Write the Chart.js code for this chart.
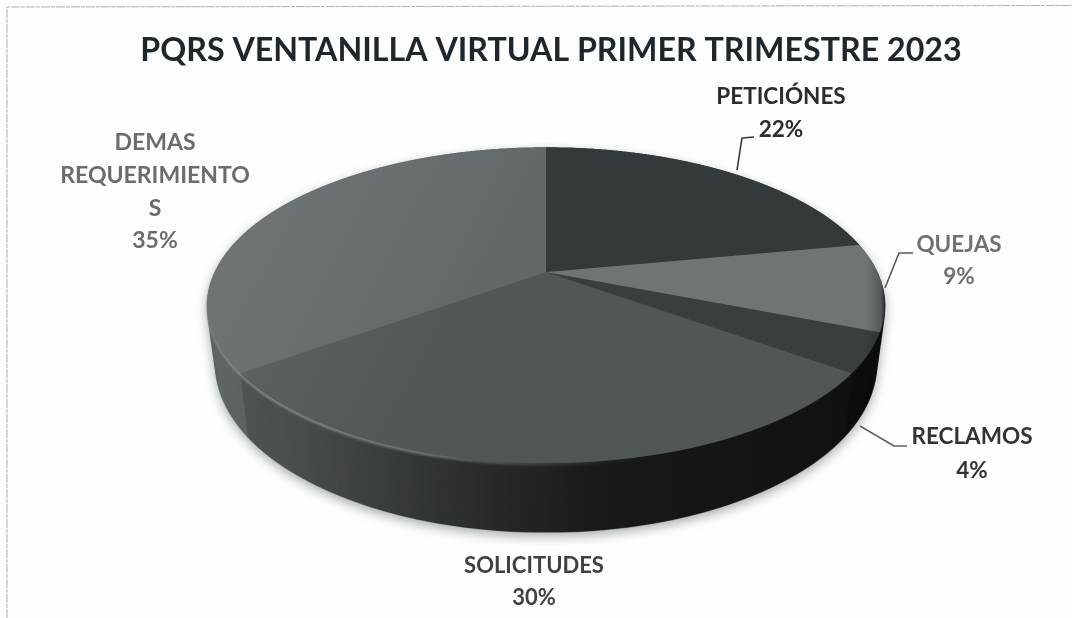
<!DOCTYPE html>
<html><head><meta charset="utf-8">
<style>html,body{margin:0;padding:0;background:#fdfefe}#w{width:1072px;height:618px;position:relative}canvas{display:block;filter:blur(0.4px)}</style>
<script src="https://cdn.jsdelivr.net/npm/chart.js@4"></script>
</head><body><div id="w"><canvas id="c" width="1072" height="618"></canvas></div>
<script>
const chartTitle = 'PQRS VENTANILLA VIRTUAL PRIMER TRIMESTRE 2023';
const categories = ['PETICIÓNES', 'QUEJAS', 'RECLAMOS', 'SOLICITUDES', 'DEMAS REQUERIMIENTOS'];
const values = [22, 9, 4, 30, 35];
const sliceColors = ['#34393b', '#6f7477', '#393e40', '#515658', '#63696b'];

// Label layout (separate from the data): wrapped lines, centre x, line centre ys, colour, font size
const labelLayout = [
  {i:0, lines:['PETICIÓNES'], x:781, ys:[97,130], color:'#272e31', size:22.5},
  {i:1, lines:['QUEJAS'], x:959, ys:[245,277], color:'#6d7273', size:22.5},
  {i:2, lines:['RECLAMOS'], x:972, ys:[437,471], color:'#2f3537', size:22.5},
  {i:3, lines:['SOLICITUDES'], x:534, ys:[566,598], color:'#3d4244', size:22},
  {i:4, lines:['DEMAS','REQUERIMIENTO','S'], x:155, ys:[143,176,209,241], color:'#686d6e', size:23}
];
const leaders = [
  {pts:[[737,170],[742,138],[754,137]], color:'#33383a'},
  {pts:[[885,288],[899,253],[913,253]], color:'#555a5b'},
  {pts:[[860,426],[894,446],[907,446]], color:'#5f6465'}
];
// Projection of the flat pie into the tilted view
const view = {cx:546, y0:272, R:331.5, k:151, p:0.209, top:147, bottom:463, depth:58, shrink:0.025, stretch:0.06};

function layer(W,H){const c=document.createElement('canvas');c.width=W;c.height=H;return c;}

const tilt3d = {
  id:'tilt3d',
  beforeDraw(chart){
    const g=chart.ctx;
    g.save();
    g.fillStyle='#fdfefe';g.fillRect(0,0,chart.width,chart.height);
    g.strokeStyle='#a9adad';g.lineWidth=1;g.setLineDash([9,1,4,1]);
    g.beginPath();g.moveTo(7,618);g.lineTo(7,7);g.lineTo(1072,5.5);g.stroke();
    g.restore();
  },
  beforeDatasetsDraw(chart){
    const W=chart.width,H=chart.height,SS=2;
    const arcs=chart.getDatasetMeta(0).data;
    const a0=arcs[0];
    // 1. the library's own arc elements, flat, on a layer
    const off=layer(W*SS,H*SS),oc=off.getContext('2d');
    oc.scale(SS,SS);
    arcs.forEach(a=>a.draw(oc));
    // 2. row-by-row perspective projection of the flat pie
    const top=layer(W*SS,H*SS),tc=top.getContext('2d');
    const Rs=a0.outerRadius,v=view;
    const vAt=y=>{const d=y-v.y0;return d/(v.k+v.p*d);};
    for(let y=v.top-2;y<v.bottom+2;y+=0.5){
      const vv=vAt(y),vn=vAt(y+0.5);
      if(Math.abs(vv)>1.02)continue;
      const w=1-v.p*vv,s=v.R/(w*Rs);
      const sx=(a0.x-Rs-2)*SS,sw=(2*Rs+4)*SS;
      const sy=(a0.y+Rs*vv)*SS,sh=Math.max(1,Rs*(vn-vv)*SS);
      const dx=v.cx-(Rs+2)*s;
      tc.drawImage(off,sx,sy,sw,sh,dx*SS,y*SS,(2*Rs+4)*s*SS,1.5);
    }
    // soft shading of the top face
    tc.globalCompositeOperation='source-atop';
    let sg=tc.createLinearGradient(205*SS,310*SS,420*SS,420*SS);
    sg.addColorStop(0,'rgba(170,175,175,.16)');sg.addColorStop(1,'rgba(170,175,175,0)');
    tc.fillStyle=sg;tc.fillRect(0,0,W*SS,H*SS);
    const rg=tc.createLinearGradient(866*SS,0,887*SS,0);
    rg.addColorStop(0,'rgba(10,12,14,0)');rg.addColorStop(.7,'rgba(10,12,14,.25)');rg.addColorStop(1,'rgba(10,12,14,.9)');
    tc.fillStyle=rg;tc.fillRect(0,0,W*SS,H*SS);
    tc.globalCompositeOperation='source-over';
    // 3. side wall: stacked copies of the face, darkened left to right
    const side=layer(W*SS,H*SS),sc=side.getContext('2d');
    const N=140;
    for(let i=N;i>=1;i--){
      const t=i/N,sxk=1-v.shrink*t,syk=1+v.stretch*t;
      sc.setTransform(sxk,0,0,syk,(v.cx-v.cx*sxk)*SS,(v.y0-v.y0*syk+v.depth*t)*SS);
      sc.drawImage(top,0,0);
    }
    sc.setTransform(1,0,0,1,0,0);
    sc.globalCompositeOperation='source-atop';
    const dg=sc.createLinearGradient(207*SS,0,880*SS,0);
    [[0,.06],[.05,.1],[.14,.14],[.30,.34],[.44,.56],[.58,.74],[.75,.8],[1,.86]].forEach(s=>dg.addColorStop(s[0],'rgba(5,6,8,'+s[1]+')'));
    sc.fillStyle=dg;sc.fillRect(0,0,W*SS,H*SS);
    const g=chart.ctx;
    g.save();
    g.imageSmoothingEnabled=true;g.imageSmoothingQuality='high';
    g.shadowColor='rgba(95,110,110,.55)';g.shadowBlur=11;g.shadowOffsetY=4;
    g.drawImage(side,0,0,W,H);
    g.shadowColor='transparent';g.shadowBlur=0;g.shadowOffsetY=0;
    // 4. light bevel on the front-left rim
    const hl=layer(W*SS,H*SS),hc=hl.getContext('2d');
    hc.filter='blur(2px)';hc.drawImage(top,0,5);hc.filter='none';
    hc.globalCompositeOperation='source-in';
    const lg=hc.createLinearGradient(207*SS,0,640*SS,0);
    lg.addColorStop(0,'rgba(140,145,145,.9)');lg.addColorStop(.5,'rgba(125,130,130,.8)');lg.addColorStop(1,'rgba(90,95,95,0)');
    hc.fillStyle=lg;hc.fillRect(0,0,W*SS,H*SS);
    g.drawImage(hl,0,0,W,H);
    // 5. top face
    g.drawImage(top,0,0,W,H);
    g.restore();
    return false;
  },
  afterDraw(chart){
    const g=chart.ctx,total=values.reduce((a,b)=>a+b,0);
    g.save();
    g.lineWidth=1.6;g.lineJoin='round';
    leaders.forEach(l=>{g.strokeStyle=l.color;g.beginPath();l.pts.forEach((p,i)=>i?g.lineTo(p[0],p[1]):g.moveTo(p[0],p[1]));g.stroke();});
    g.textAlign='center';g.textBaseline='middle';
    labelLayout.forEach(l=>{
      g.fillStyle=l.color;
      g.font='bold '+l.size+'px Lato';
      const txt=l.lines.concat([Math.round(values[l.i]/total*100)+'%']);
      txt.forEach((t,j)=>g.fillText(t,l.x,l.ys[j]));
    });
    g.restore();
  }
};

new Chart(document.getElementById('c'),{
  type:'pie',
  data:{labels:categories,datasets:[{data:values,backgroundColor:sliceColors,borderWidth:0,hoverOffset:0}]},
  options:{
    responsive:false,animation:false,
    layout:{padding:{left:30,right:0,top:0,bottom:0}},
    plugins:{
      legend:{display:false},tooltip:{enabled:false},
      title:{display:true,text:chartTitle,color:'#1e272b',font:{family:'Lato',weight:'bold',size:32.2},padding:{top:31,bottom:6}}
    }
  },
  plugins:[tilt3d]
});
</script></body></html>
